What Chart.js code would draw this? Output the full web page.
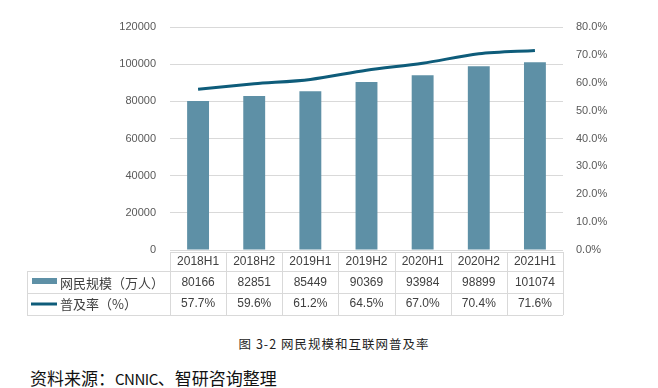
<!DOCTYPE html>
<html>
<head>
<meta charset="utf-8">
<script src="https://cdn.jsdelivr.net/npm/chart.js@4"></script>
<style>
  body { margin: 0; background: #fff; width: 658px; height: 388px; overflow: hidden; position: relative; }
  #chart { position: absolute; left: 0; top: 0; }
  .caption {
    position: absolute; left: 0; width: 668px; top: 334px; text-align: center;
    font: 12.5px "Noto Sans CJK SC", sans-serif; letter-spacing: 1px; color: #222;
  }
  .source {
    position: absolute; left: 30px; top: 365px;
    font: 17px "Noto Sans CJK SC", sans-serif; color: #111;
  }
  .source span { font-size: 15px; letter-spacing: -0.5px; }
</style>
</head>
<body>
<canvas id="chart" width="658" height="320"></canvas>
<div class="caption">图 3-2 网民规模和互联网普及率</div>
<div class="source">资料来源：<span>CNNIC</span>、智研咨询整理</div>
<script>
const categories = ["2018H1", "2018H2", "2019H1", "2019H2", "2020H1", "2020H2", "2021H1"]
const netizens = [80166, 82851, 85449, 90369, 93984, 98899, 101074]
const rates = [57.7, 59.6, 61.2, 64.5, 67.0, 70.4, 71.6]
const seriesNames = ["网民规模（万人）", "普及率（%）"]

const barColor = "rgb(94, 144, 166)"
const lineColor = "rgb(14, 92, 122)"
const gridColor = "#d9d9d9"
const tickFont = { family: "'Liberation Sans', 'Noto Sans CJK SC', sans-serif", size: 11 }

// data table under the plot, drawn from the same arrays and x scale
const dataTable = {
  id: "dataTable",
  afterDraw(chart) {
    const { ctx } = chart
    const x = chart.scales.x
    const step = x.getPixelForValue(1) - x.getPixelForValue(0)
    const left = x.getPixelForValue(0) - step / 2
    const right = left + step * categories.length
    const legendLeft = 27
    const rows = [252, 271, 293, 315]

    ctx.save()
    ctx.strokeStyle = gridColor
    ctx.lineWidth = 1
    ctx.beginPath()
    ctx.moveTo(left, rows[0] + 0.5); ctx.lineTo(right, rows[0] + 0.5)
    for (let r = 1; r < rows.length; r++) {
      ctx.moveTo(legendLeft, rows[r] + 0.5); ctx.lineTo(right, rows[r] + 0.5)
    }
    for (let i = 0; i <= categories.length; i++) {
      const px = Math.round(left + step * i) + 0.5
      ctx.moveTo(px, rows[0]); ctx.lineTo(px, rows[3])
    }
    ctx.moveTo(legendLeft + 0.5, rows[1]); ctx.lineTo(legendLeft + 0.5, rows[3])
    ctx.stroke()

    ctx.fillStyle = "#404040"
    ctx.textAlign = "center"
    ctx.textBaseline = "middle"
    ctx.font = "12px 'Liberation Sans', 'Noto Sans CJK SC', sans-serif"
    categories.forEach((c, i) => {
      const cx = x.getPixelForValue(i)
      ctx.fillText(c, cx, 262)
      ctx.fillText(String(netizens[i]), cx, 283)
      ctx.fillText(rates[i].toFixed(1) + "%", cx, 304)
    })

    // legend keys
    ctx.fillStyle = barColor
    ctx.fillRect(32, 278, 25, 6)
    ctx.strokeStyle = lineColor
    ctx.lineWidth = 3
    ctx.beginPath()
    ctx.moveTo(31, 304); ctx.lineTo(57, 304)
    ctx.stroke()

    ctx.fillStyle = "#404040"
    ctx.textAlign = "left"
    ctx.font = "13px 'Noto Sans CJK SC', sans-serif"
    ctx.fillText(seriesNames[0], 60, 283)
    ctx.fillText(seriesNames[1], 60, 304)
    ctx.restore()
  }
}

new Chart(document.getElementById("chart"), {
  data: {
    labels: categories,
    datasets: [
      {
        type: "line",
        label: seriesNames[1],
        data: rates,
        yAxisID: "yRight",
        borderColor: lineColor,
        borderWidth: 3,
        pointRadius: 0,
        tension: 0.3,
        order: 0
      },
      {
        type: "bar",
        label: seriesNames[0],
        data: netizens,
        yAxisID: "yLeft",
        backgroundColor: barColor,
        barPercentage: 0.39,
        categoryPercentage: 1,
        order: 1
      }
    ]
  },
  options: {
    responsive: false,
    animation: false,
    layout: { padding: { top: 27, bottom: 70, left: 0, right: 0 } },
    plugins: { legend: { display: false }, tooltip: { enabled: false } },
    scales: {
      x: { display: false, offset: true },
      yLeft: {
        position: "left",
        min: 0, max: 120000,
        afterFit(scale) { scale.width = 170 },
        grid: { color: gridColor, drawTicks: false },
        border: { display: false },
        ticks: {
          stepSize: 20000, padding: 14, color: "#595959", font: tickFont,
          callback: v => String(v)
        }
      },
      yRight: {
        position: "right",
        min: 0, max: 80,
        afterFit(scale) { scale.width = 95 },
        grid: { display: false, drawTicks: false },
        border: { display: false },
        ticks: {
          stepSize: 10, padding: 13, color: "#595959", font: tickFont,
          callback: v => v.toFixed(1) + "%"
        }
      }
    }
  },
  plugins: [dataTable]
})
</script>
</body>
</html>
